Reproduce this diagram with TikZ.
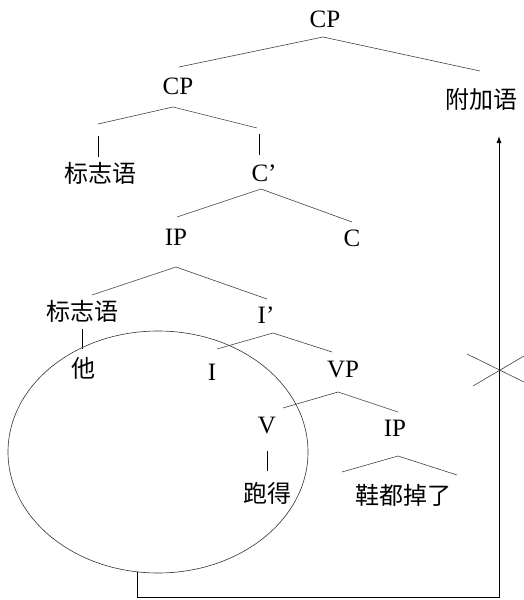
\documentclass[tikz,border=0pt]{standalone}
\usepackage{fontspec}
\setmainfont{Liberation Serif}
\newfontfamily\cjk{Noto Sans CJK SC}
\usetikzlibrary{shapes.geometric,arrows.meta}

\begin{document}
\begin{tikzpicture}[x=1pt,y=-1pt,
  lab/.style={inner sep=0pt, font=\fontsize{25}{25}\selectfont},
  zh/.style={inner sep=0pt, font=\fontsize{24}{24}\selectfont\cjk},
  branch/.style={draw=black!75, line width=0.6pt},
  stem/.style={draw=black, line width=0.7pt},
  route/.style={draw=black, line width=0.9pt}]
\useasboundingbox (0,0) rectangle (524,600);

% labels
\node[lab] (cp1)   at (325,19)  {CP};
\node[lab] (cp2)   at (178,86)  {CP};
\node[zh]  (adj)   at (481,99)  {附加语};
\node[zh]  (spec1) at (100,173) {标志语};
\node[lab] (cbar)  at (264,173) {C’};
\node[lab] (ip1)   at (176,237) {IP};
\node[lab] (c)     at (352,238) {C};
\node[zh]  (spec2) at (82,311)  {标志语};
\node[lab] (ibar)  at (266,315) {I’};
\node[zh]  (ta)    at (83,368)  {他};
\node[lab] (i)     at (212,372) {I};
\node[lab] (vp)    at (343,369) {VP};
\node[lab] (v)     at (267,425) {V};
\node[lab] (ip2)   at (395,428) {IP};
\node[zh]  (paode) at (267,493) {跑得};
\node[zh]  (xie)   at (403,495) {鞋都掉了};

% branch points
\coordinate (cp1t) at (323,37);  \coordinate (cp1l) at (179,67);  \coordinate (cp1r) at (480,71);
\coordinate (cp2t) at (173,107); \coordinate (cp2l) at (98,124);  \coordinate (cp2r) at (257,128);
\coordinate (cbt)  at (261,189); \coordinate (cbl)  at (177,217); \coordinate (cbr)  at (352,222);
\coordinate (ip1t) at (176,267); \coordinate (ip1l) at (92,295);  \coordinate (ip1r) at (267,299);
\coordinate (ibt)  at (273,333); \coordinate (ibl)  at (217,349); \coordinate (ibr)  at (332,352);
\coordinate (vpt)  at (338,392); \coordinate (vpl)  at (283,408); \coordinate (vpr)  at (398,412);
\coordinate (ipt)  at (398,456); \coordinate (ipl)  at (342,472); \coordinate (ipr)  at (457,475);

\draw[branch] (cp1l) -- (cp1t) -- (cp1r);
\draw[branch] (cp2l) -- (cp2t) -- (cp2r);
\draw[branch] (cbl) -- (cbt) -- (cbr);
\draw[branch] (ip1l) -- (ip1t) -- (ip1r);
\draw[branch] (ibl) -- (ibt) -- (ibr);
\draw[branch] (vpl) -- (vpt) -- (vpr);
\draw[branch] (ipl) -- (ipt) -- (ipr);

% unary stems
\coordinate (s1a) at (98,136);  \coordinate (s1b) at (98,157);
\coordinate (s2a) at (259,134); \coordinate (s2b) at (259,155);
\coordinate (s3a) at (82,329);  \coordinate (s3b) at (82,349);
\coordinate (s4a) at (267,451); \coordinate (s4b) at (267,471);
\draw[stem] (s1a) -- (s1b);
\draw[stem] (s2a) -- (s2b);
\draw[stem] (s3a) -- (s3b);
\draw[stem] (s4a) -- (s4b);

% enclosing ellipse
\node[draw=black!80, line width=0.6pt, ellipse, inner sep=0pt,
      minimum width=300pt, minimum height=242pt] (loop) at (158,452) {};

% movement path to the adjunct position
\coordinate (m0) at (137,572);
\coordinate (m1) at (137,597);
\coordinate (m2) at (499,597);
\coordinate (m3) at (499,136);
\draw[route, -{Latex[length=7pt,width=5pt]}] (m0) -- (m1) -- (m2) -- (m3);

% blocked-movement cross
\coordinate (xa) at (467,354); \coordinate (xb) at (524,382);
\coordinate (xc) at (473,386); \coordinate (xd) at (524,356);
\draw[branch] (xa) -- (xb);
\draw[branch] (xc) -- (xd);
\end{tikzpicture}
\end{document}
